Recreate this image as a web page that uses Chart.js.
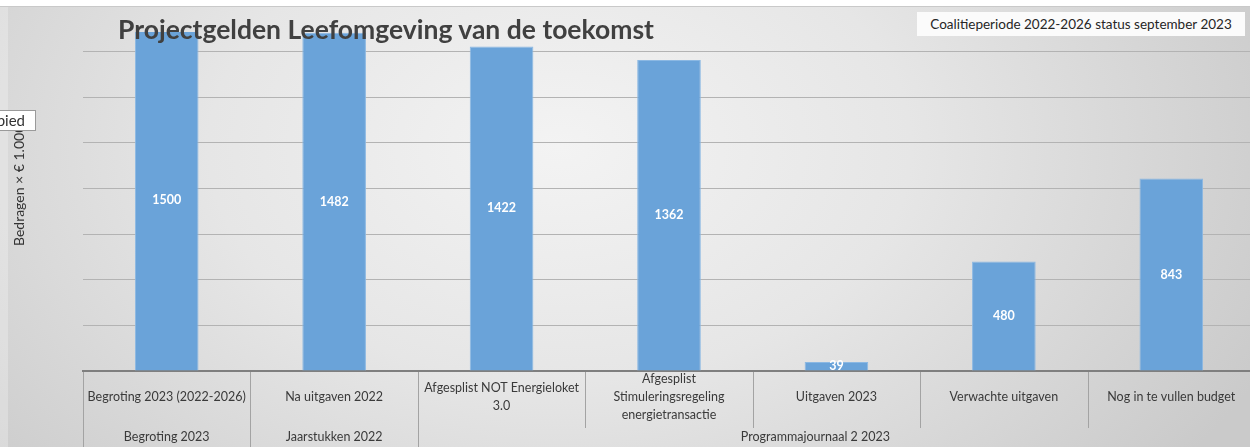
<!DOCTYPE html>
<html>
<head>
<meta charset="utf-8">
<script src="https://cdn.jsdelivr.net/npm/chart.js@4.4.0/dist/chart.umd.min.js"></script>
<style>
    body { margin: 0; width: 1250px; height: 447px; overflow: hidden; position: relative; background: #fff; font-family: Lato, sans-serif; }
    #bg { position: absolute; left: 0; top: 6px; width: 1250px; height: 441px; border-top: 1px solid #c9c9c9;
          background: radial-gradient(ellipse 780px 520px at 560px 140px, #f3f3f3 0%, #e6e6e6 45%, #cacaca 100%); }
    #strip { position: absolute; left: 0; top: 7px; width: 8px; height: 440px; background: rgba(255,255,255,0.25); }
    #c { position: absolute; left: 0; top: 0; }
    #title { position: absolute; left: 118px; top: 16px; font: bold 26.5px Lato, sans-serif; line-height: 26.5px; color: #404040; white-space: nowrap; }
    #subtitle { position: absolute; left: 917px; top: 12px; width: 328px; height: 24px; background: #fbfbfb; font-size: 13.5px; line-height: 24px; color: #262626; text-align: center; white-space: nowrap; }
    #ytitle { position: absolute; left: 12px; top: 246px; transform-origin: 0 0; transform: rotate(-90deg); font-size: 14px; line-height: 14px; color: #333; white-space: nowrap; }
    #tag { position: absolute; left: -5px; top: 110px; width: 41px; height: 21px; background: #fff; border: 1px solid #9a9a9a; overflow: hidden; font-size: 15px; line-height: 19px; color: #333; text-align: right; padding-right: 10px; box-sizing: border-box; white-space: nowrap; direction: rtl; }
</style>
</head>
<body>
<div id="bg"></div>
<div id="strip"></div>
<canvas id="c" width="1260" height="447"></canvas>
<div id="title">Projectgelden Leefomgeving van de toekomst</div>
<div id="subtitle">Coalitieperiode 2022-2026 status september 2023</div>
<div id="ytitle">Bedragen × € 1.000</div>
<div id="tag">Gebied</div>
<script>
// Data
const categories = [
    ['Begroting 2023 (2022-2026)'],
    ['Na uitgaven 2022'],
    ['Afgesplist NOT Energieloket', '3.0'],
    ['Afgesplist', 'Stimuleringsregeling', 'energietransactie'],
    ['Uitgaven 2023'],
    ['Verwachte uitgaven'],
    ['Nog in te vullen budget']
];
const amounts = [1500, 1482, 1422, 1362, 39, 480, 843];
const groupLabels = ['Begroting 2023', 'Jaarstukken 2022', 'Programmajournaal 2 2023'];
const groupSizes = [1, 1, 5];
const yMax = 1485;
const yStep = 200;

const LABEL_FONT = '12.5px Lato, sans-serif';
const LABEL_COLOR = '#3a3a3a';
const DIVIDER_COLOR = '#a3a3a3';

// value labels inside the bars
const barValues = {
    id: 'barValues',
    afterDatasetsDraw(chart) {
        const ctx = chart.ctx;
        const meta = chart.getDatasetMeta(0);
        ctx.save();
        ctx.font = 'bold 12.5px Lato, sans-serif';
        ctx.fillStyle = '#ffffff';
        ctx.textAlign = 'center';
        ctx.textBaseline = 'middle';
        meta.data.forEach((bar, i) => {
            ctx.fillText(String(amounts[i]), bar.x, (bar.y + bar.base) / 2);
        });
        ctx.restore();
    }
};

// two-level category axis below the plot
const groupedAxis = {
    id: 'groupedAxis',
    afterDraw(chart) {
        const ctx = chart.ctx;
        const x = chart.scales.x;
        const area = chart.chartArea;
        const n = categories.length;
        const edge = i => {
            if (i <= 0) return area.left;
            if (i >= n) return area.right;
            return (x.getPixelForValue(i - 1) + x.getPixelForValue(i)) / 2;
        };
        const groupStarts = [];
        let acc = 0;
        groupSizes.forEach(s => { groupStarts.push(acc); acc += s; });

        ctx.save();
        // dividers
        ctx.strokeStyle = DIVIDER_COLOR;
        ctx.lineWidth = 1;
        for (let i = 0; i <= n; i++) {
            const px = Math.round(edge(i)) + 0.5;
            const full = i === 0 || i === n || groupStarts.includes(i);
            ctx.beginPath();
            ctx.moveTo(px, area.bottom + 1);
            ctx.lineTo(px, full ? 447 : 428);
            ctx.stroke();
        }

        // category labels
        ctx.font = LABEL_FONT;
        ctx.fillStyle = LABEL_COLOR;
        ctx.textAlign = 'center';
        ctx.textBaseline = 'middle';
        const rowMid = area.bottom + 26;
        const lineH = 18;
        categories.forEach((lines, i) => {
            const cx = x.getPixelForValue(i);
            const top = rowMid - (lines.length - 1) * lineH / 2;
            lines.forEach((t, k) => ctx.fillText(t, cx, top + k * lineH));
        });

        // group labels
        const groupShift = [0, 0, -21];
        groupLabels.forEach((g, gi) => {
            const s = groupStarts[gi];
            const cx = (edge(s) + edge(s + groupSizes[gi])) / 2 + groupShift[gi];
            ctx.fillText(g, cx, 437);
        });
        ctx.restore();
    }
};

new Chart(document.getElementById('c'), {
    type: 'bar',
    data: {
        labels: categories.map(c => c.join(' ')),
        datasets: [{
            data: amounts,
            backgroundColor: '#6aa3d9',
            borderColor: '#8bb8e3',
            borderWidth: 1,
            barPercentage: 0.38,
            categoryPercentage: 1
        }]
    },
    options: {
        responsive: false,
        animation: false,
        devicePixelRatio: 1,
        layout: { padding: { left: 83, right: 5, top: 32, bottom: 76 } },
        plugins: { legend: { display: false }, tooltip: { enabled: false } },
        scales: {
            x: {
                ticks: { display: false },
                grid: { display: false, drawTicks: false },
                border: { display: true, color: '#7f7f7f', width: 2 }
            },
            y: {
                min: 0,
                max: yMax,
                ticks: { display: false, stepSize: yStep, includeBounds: false },
                grid: { color: '#b3b3b3', lineWidth: 1, drawTicks: false },
                border: { display: false }
            }
        }
    },
    plugins: [barValues, groupedAxis]
});
</script>
</body>
</html>
